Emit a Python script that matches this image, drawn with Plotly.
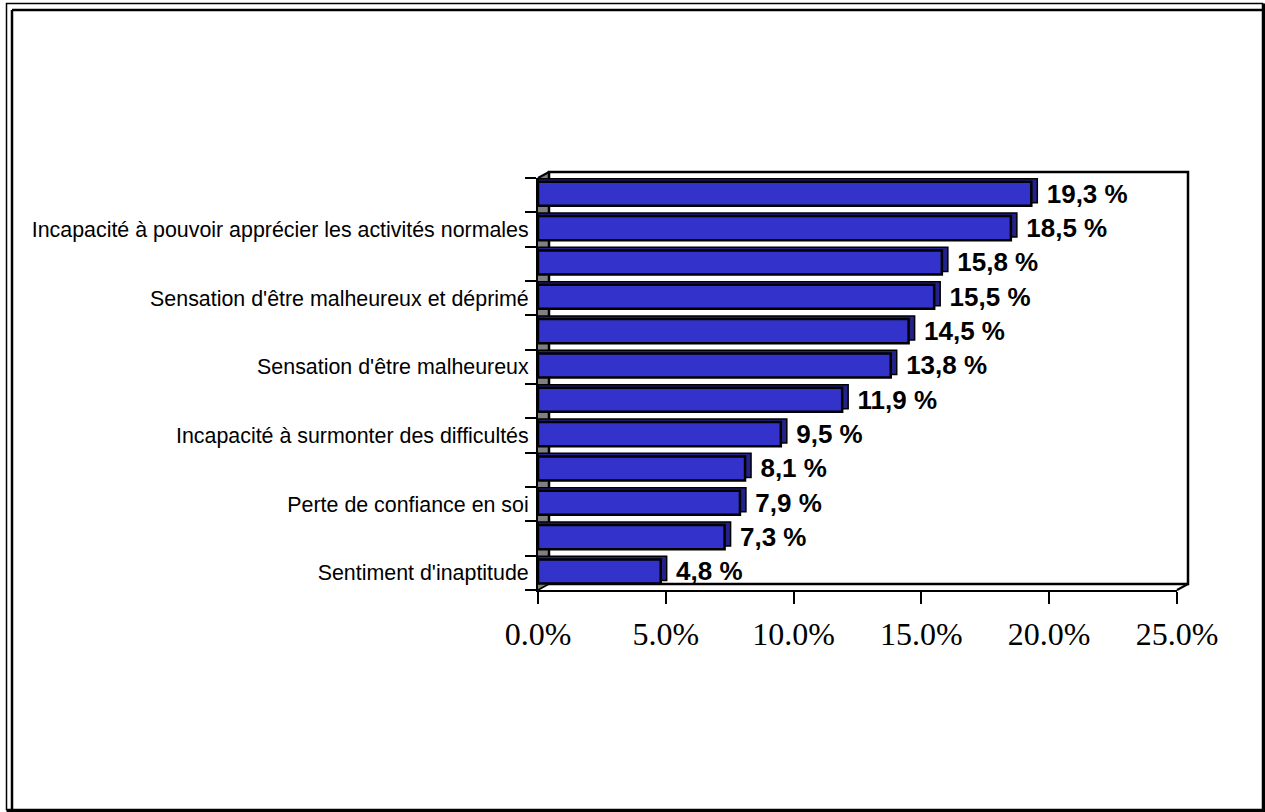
import plotly.graph_objects as go

# Categories listed top to bottom (empty strings = categories whose labels are not shown)
categories = [
    "",
    "Incapacité à pouvoir apprécier les activités normales",
    "",
    "Sensation d'être malheureux et déprimé",
    "",
    "Sensation d'être malheureux",
    "",
    "Incapacité à surmonter des difficultés",
    "",
    "Perte de confiance en soi",
    "",
    "Sentiment d'inaptitude",
]
values = [19.3, 18.5, 15.8, 15.5, 14.5, 13.8, 11.9, 9.5, 8.1, 7.9, 7.3, 4.8]
x_tick_vals = [0, 5, 10, 15, 20, 25]
x_tick_text = [f"{v:.1f}%" for v in x_tick_vals]

n = len(categories)
ypos = [n - 1 - i for i in range(n)]
labels = [f"{v:.1f} %".replace(".", ",") for v in values]

# plot area geometry (pixels)
W, H = 1265, 812
L, R, T, B = 538, 1177, 178, 590
pw, ph = R - L, B - T


def px(x):
    return (x - L) / pw


def py(y):
    return (B - y) / ph


depth_x = 6 * 25 / pw   # side-face depth in % units
bw = 0.70
front_off = -bw / 2 + 0.04
shadow_off = front_off + 0.09

fig = go.Figure()

# invisible trace carrying the value labels
fig.add_trace(go.Bar(
    x=[v + depth_x + 0.25 for v in values], y=ypos, orientation="h",
    width=bw, offset=front_off,
    marker=dict(color="rgba(0,0,0,0)", line=dict(width=0)),
    text=labels, textposition="outside", cliponaxis=False, constraintext="none",
    textfont=dict(family="Liberation Sans, Arial", size=26, color="black", weight="bold"),
    hoverinfo="skip", showlegend=False,
))
# 3D side/top face
fig.add_trace(go.Bar(
    x=[v + depth_x for v in values], y=ypos, orientation="h",
    width=bw, offset=shadow_off,
    marker=dict(color="#22228a", line=dict(color="black", width=1.5)),
    hoverinfo="skip", showlegend=False,
))
# front face
fig.add_trace(go.Bar(
    x=values, y=ypos, orientation="h",
    width=bw, offset=front_off,
    marker=dict(color="#3333CC", line=dict(color="black", width=2.5)),
    showlegend=False,
))

dx, dy = 11, 6
shapes = [
    # grey left side wall
    dict(type="path", xref="paper", yref="paper", layer="below",
         path=f"M {px(L)},{py(T)} L {px(L+dx)},{py(T-dy)} L {px(L+dx)},{py(B-dy)} L {px(L)},{py(B)} Z",
         fillcolor="#808080", line=dict(width=0)),
    # back wall outline
    dict(type="rect", xref="paper", yref="paper", layer="below",
         x0=px(L + dx), x1=px(R + dx), y0=py(B - dy), y1=py(T - dy),
         line=dict(color="black", width=2.5)),
    # depth connectors
    dict(type="line", xref="paper", yref="paper", x0=px(L), y0=py(T), x1=px(L + dx), y1=py(T - dy),
         line=dict(color="black", width=2)),
    dict(type="line", xref="paper", yref="paper", x0=px(R), y0=py(B), x1=px(R + dx), y1=py(B - dy),
         line=dict(color="black", width=2)),
    dict(type="line", xref="paper", yref="paper", x0=px(L), y0=py(B), x1=px(L + dx), y1=py(B - dy),
         line=dict(color="black", width=1.5)),
    # page border
    dict(type="rect", xref="paper", yref="paper", x0=px(6.5), x1=px(1262.5), y0=py(809.5), y1=py(3.5),
         line=dict(color="black", width=1.5)),
    dict(type="line", xref="paper", yref="paper", x0=px(12), x1=px(12), y0=py(809.5), y1=py(10),
         line=dict(color="black", width=2.5)),
    dict(type="line", xref="paper", yref="paper", x0=px(12), x1=px(1262.5), y0=py(10), y1=py(10),
         line=dict(color="black", width=2.5)),
    dict(type="line", xref="paper", yref="paper", x0=px(1263.5), x1=px(1263.5), y0=py(811), y1=py(3.5),
         line=dict(color="black", width=3)),
    dict(type="line", xref="paper", yref="paper", x0=px(6.5), x1=px(1265), y0=py(810.5), y1=py(810.5),
         line=dict(color="black", width=3)),
]

fig.update_layout(
    width=W, height=H,
    margin=dict(l=L, r=W - R, t=T, b=H - B, pad=0),
    paper_bgcolor="white", plot_bgcolor="white",
    barmode="overlay",
    shapes=shapes,
    xaxis=dict(
        range=[0, 25], tickmode="array", tickvals=x_tick_vals, ticktext=x_tick_text,
        showgrid=False, zeroline=False,
        showline=True, linecolor="black", linewidth=2,
        ticks="outside", ticklen=12, tickwidth=2, tickcolor="black",
        ticklabelstandoff=3,
        tickfont=dict(family="Liberation Serif, Times New Roman", size=32, color="black"),
        fixedrange=True,
    ),
    yaxis=dict(
        range=[-0.5, n - 0.5],
        tickmode="array", tickvals=ypos, ticktext=categories,
        showgrid=False, zeroline=False,
        showline=True, linecolor="black", linewidth=2,
        ticks="outside", ticklen=3, tickcolor="rgba(0,0,0,0)",
        minor=dict(tickmode="array", tickvals=[k - 0.5 for k in range(n + 1)],
                   ticks="outside", ticklen=11, tickwidth=2, tickcolor="black", showgrid=False),
        tickfont=dict(family="Liberation Sans, Arial", size=21.4, color="black"),
        fixedrange=True,
    ),
)

fig.write_html(
    "out.html",
    config={"displayModeBar": False},
    post_script="document.body.style.margin='0';document.body.style.padding='0';document.body.style.overflow='hidden';",
)
